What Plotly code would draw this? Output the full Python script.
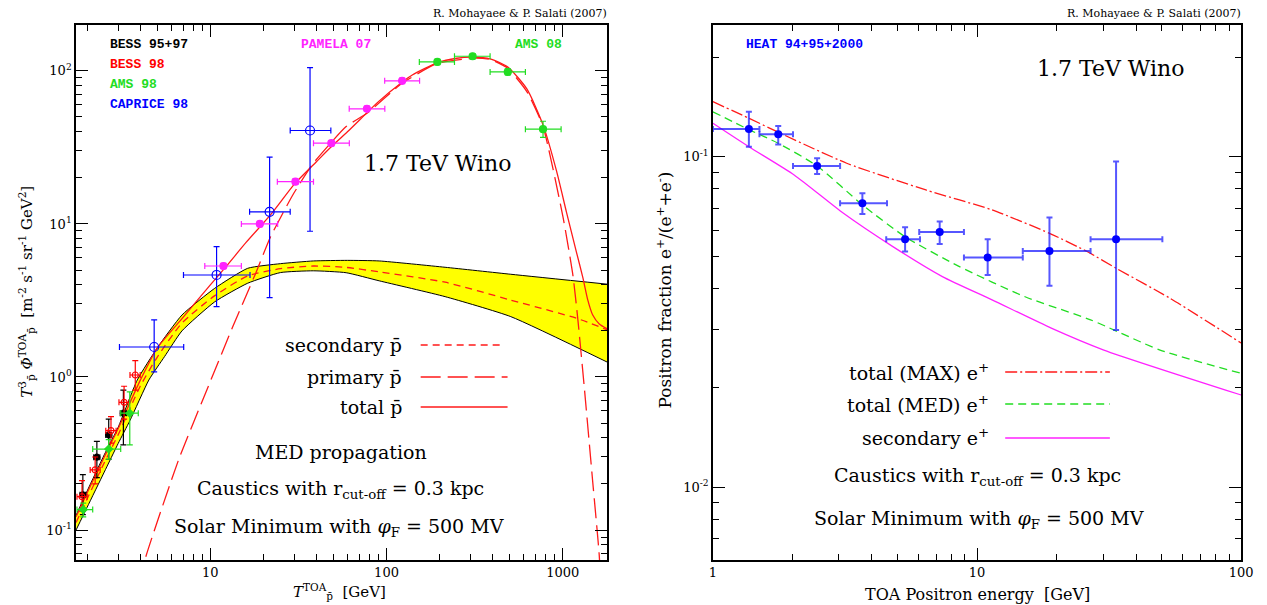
import numpy as np
import plotly.graph_objects as go

W, H = 1267, 605

# ---------------- LEFT PANEL DATA (antiprotons) ----------------
band_lo_x = [1.73, 2.0, 2.5, 3.0, 3.5, 4.48, 5.5, 6.9, 10.6, 16.3, 25, 38.4, 59, 90.8, 215, 507, 1790]
band_lo_y = [0.100, 0.141, 0.239, 0.368, 0.52, 0.956, 1.36, 2.0, 3.1, 4.10, 4.81, 4.94, 4.8, 4.25, 3.35, 2.48, 1.25]
band_hi_x = [1.73, 2.0, 2.5, 3.0, 3.85, 5.0, 6.9, 10.6, 16.3, 25, 38.4, 60, 90.8, 215, 507, 1790]
band_hi_y = [0.125, 0.18, 0.31, 0.47, 0.956, 1.55, 2.54, 3.8, 5.13, 5.5, 5.73, 5.78, 5.73, 5.21, 4.69, 4.04]

sec_x = [1.73, 2.0, 2.5, 3.0, 4.0, 5.0, 6.9, 10.6, 16.3, 25, 38.4, 59, 90.8, 215, 507, 1197, 1790]
sec_y = [0.112, 0.16, 0.275, 0.42, 0.87, 1.35, 2.25, 3.4, 4.57, 5.1, 5.31, 5.2, 4.86, 4.16, 3.18, 2.42, 2.03]

prim_x = [4.0, 4.25, 6.6, 9.9, 13.4, 18.1, 22.0, 29.7, 38.4, 59, 77.4, 122.6, 194, 308, 387, 488, 627, 773, 1005, 1143, 1218, 1328, 1480, 1612, 1660]
prim_y = [0.045, 0.0637, 0.287, 0.91, 2.13, 4.77, 8.27, 15.8, 24.9, 43.3, 52.9, 83, 112, 121, 119, 104, 73, 43.3, 11.0, 4.6, 2.39, 0.835, 0.206, 0.068, 0.03]

tot_x = [1.73, 2.0, 2.5, 3.0, 4.0, 5.0, 7.0, 10.0, 12.0, 16.0, 22.0, 30.0, 40.0, 50.0, 60.0, 77.0, 90.0, 122.0, 140.0, 194.0, 250.0, 308.0, 387.0, 488.0, 627.0, 773.0, 922.0, 1049.0, 1194.0, 1301.0, 1388.0, 1480.0, 1612.0, 1790.0]
tot_y = [0.122, 0.175, 0.30, 0.46, 0.95, 1.55, 2.45, 4.0, 5.1, 7.6, 11.5, 18.2, 25.5, 33.0, 40.0, 53.0, 63.0, 84.0, 94.0, 113.0, 121.0, 123.0, 120.0, 106.0, 76.0, 44.4, 22.2, 12.0, 6.6, 4.46, 3.18, 2.54, 2.22, 2.06]

# data sets: x, y, x_lo, x_hi, y_lo, y_hi
bess9597_x = [1.89, 2.27, 2.65, 3.21]
bess9597_y = [0.170, 0.299, 0.418, 0.580]
bess9597_xlo = [1.82, 2.18, 2.55, 3.08]
bess9597_xhi = [1.96, 2.36, 2.76, 3.35]
bess9597_ylo = [0.126, 0.22, 0.29, 0.36]
bess9597_yhi = [0.23, 0.38, 0.53, 0.82]

bess98_x = [1.87, 2.22, 2.73, 3.24, 3.75]
bess98_y = [0.165, 0.247, 0.446, 0.683, 1.03]
bess98_xlo = [1.75, 2.08, 2.55, 3.03, 3.5]
bess98_xhi = [2.0, 2.37, 2.92, 3.46, 4.0]
bess98_ylo = [0.133, 0.20, 0.37, 0.53, 0.82]
bess98_yhi = [0.21, 0.30, 0.55, 0.87, 1.28]

ams98_x = [1.90, 2.65, 3.49]
ams98_y = [0.136, 0.338, 0.580]
ams98_xlo = [1.75, 2.15, 3.1]
ams98_xhi = [2.15, 3.1, 3.9]
ams98_ylo = [0.122, 0.29, 0.36]
ams98_yhi = [0.15, 0.39, 0.80]

caprice_x = [4.80, 10.85, 21.7, 36.8]
caprice_y = [1.57, 4.64, 12.0, 40.8]
caprice_xlo = [3.05, 7.04, 16.7, 28.4]
caprice_xhi = [7.06, 16.8, 28.4, 48.3]
caprice_ylo = [1.08, 2.88, 3.30, 8.96]
caprice_yhi = [2.36, 7.11, 27.3, 105]

pamela_x = [11.87, 19.1, 30.4, 48.6, 77.4, 122.6]
pamela_y = [5.31, 10.0, 18.9, 33.7, 56.5, 86.1]
pamela_xlo = [9.3, 15.0, 24.0, 38.5, 61.4, 97.6]
pamela_xhi = [15.0, 24.1, 38.5, 61.5, 97.8, 154]
pamela_ylo = [5.1, 9.6, 18.2, 32.4, 54.3, 82.7]
pamela_yhi = [5.53, 10.4, 19.7, 35.1, 58.8, 89.6]

ams08_x = [194.3, 308, 487.6, 773]
ams08_y = [114.5, 124.7, 98.5, 41.6]
ams08_xlo = [153.5, 243, 387, 614]
ams08_xhi = [243, 387, 614, 979]
ams08_ylo = [110, 120, 94, 36.8]
ams08_yhi = [119, 129, 103, 46.9]

# ---------------- RIGHT PANEL DATA (positron fraction) ----------------
max_x = [1, 1.368, 1.767, 3.21, 6.4, 11.4, 18.8, 26.2, 33.6, 53.8, 100]
max_y = [0.147, 0.131, 0.1188, 0.0957, 0.0794, 0.0691, 0.0587, 0.0516, 0.046, 0.0373, 0.0273]

med_x = [1, 1.368, 1.767, 2.48, 3.68, 5.34, 8.54, 15.2, 26.9, 49.3, 100]
med_y = [0.137, 0.121, 0.110, 0.0939, 0.0716, 0.0573, 0.0466, 0.0377, 0.0321, 0.026, 0.0221]

secp_x = [1, 1.368, 2.03, 3.12, 4.80, 7.39, 11.4, 19.1, 30.2, 100]
secp_y = [0.1265, 0.1074, 0.0882, 0.0675, 0.0535, 0.0434, 0.0369, 0.0303, 0.026, 0.019]

heat_x = [1.368, 1.767, 2.48, 3.68, 5.34, 7.22, 10.97, 18.8, 33.6]
heat_y = [0.1216, 0.1172, 0.0939, 0.0724, 0.0563, 0.0592, 0.0496, 0.0519, 0.0563]
heat_xlo = [1.0, 1.5, 2.01, 3.03, 4.53, 6.04, 8.92, 14.9, 26.9]
heat_xhi = [1.5, 2.01, 3.03, 4.56, 6.08, 8.92, 14.9, 26.9, 50.3]
heat_ylo = [0.1074, 0.109, 0.0888, 0.0672, 0.0517, 0.0545, 0.0439, 0.0407, 0.0299]
heat_yhi = [0.137, 0.124, 0.0991, 0.0776, 0.0612, 0.0637, 0.0563, 0.0655, 0.0968]

left_xticks = [10, 100, 1000]
left_xticktext = ["10", "100", "1000"]
left_yticks = [0.1, 1, 10, 100]
left_yticktext = ["10<sup>-1</sup>", "10<sup>0</sup>", "10<sup>1</sup>", "10<sup>2</sup>"]
right_xticks = [1, 10, 100]
right_xticktext = ["1", "10", "100"]
right_yticks = [0.01, 0.1]
right_yticktext = ["10<sup>-2</sup>", "10<sup>-1</sup>"]

RED = "#ff1a1a"
GREEN = "#22dd22"
MAG = "#ff22ff"
BLUE = "#0000ff"

fig = go.Figure()


def errs(x, y, xlo, xhi, ylo, yhi):
    x = np.array(x); y = np.array(y)
    return (dict(type="data", symmetric=False, array=np.array(xhi) - x, arrayminus=x - np.array(xlo)),
            dict(type="data", symmetric=False, array=np.array(yhi) - y, arrayminus=y - np.array(ylo)))


# band
fig.add_trace(go.Scatter(x=band_lo_x, y=band_lo_y, mode="lines", line=dict(color="black", width=1, shape="spline", smoothing=0.5),
                         xaxis="x", yaxis="y", showlegend=False))
fig.add_trace(go.Scatter(x=band_hi_x, y=band_hi_y, mode="lines", line=dict(color="black", width=1, shape="spline", smoothing=0.5),
                         fill="tonexty", fillcolor="#ffff00", xaxis="x", yaxis="y", showlegend=False))
fig.add_trace(go.Scatter(x=sec_x, y=sec_y, mode="lines", line=dict(color=RED, width=1.3, dash="7px,5px", shape="spline", smoothing=0.6),
                         xaxis="x", yaxis="y", showlegend=False))
fig.add_trace(go.Scatter(x=prim_x, y=prim_y, mode="lines", line=dict(color=RED, width=1.3, dash="20px,7px", shape="spline", smoothing=0.5),
                         xaxis="x", yaxis="y", showlegend=False))
fig.add_trace(go.Scatter(x=tot_x, y=tot_y, mode="lines", line=dict(color=RED, width=1.3, shape="spline", smoothing=0.6),
                         xaxis="x", yaxis="y", showlegend=False))

sets = [
    (bess9597_x, bess9597_y, bess9597_xlo, bess9597_xhi, bess9597_ylo, bess9597_yhi, "black", "circle", 6),
    (bess98_x, bess98_y, bess98_xlo, bess98_xhi, bess98_ylo, bess98_yhi, "red", "circle-open", 6),
    (ams98_x, ams98_y, ams98_xlo, ams98_xhi, ams98_ylo, ams98_yhi, GREEN, "diamond", 6),
    (caprice_x, caprice_y, caprice_xlo, caprice_xhi, caprice_ylo, caprice_yhi, BLUE, "circle-open", 9),
    (pamela_x, pamela_y, pamela_xlo, pamela_xhi, pamela_ylo, pamela_yhi, MAG, "circle", 7),
    (ams08_x, ams08_y, ams08_xlo, ams08_xhi, ams08_ylo, ams08_yhi, GREEN, "circle", 7),
]
for x, y, xlo, xhi, ylo, yhi, c, sym, sz in sets:
    ex, ey = errs(x, y, xlo, xhi, ylo, yhi)
    ex.update(color=c, thickness=1.2, width=3)
    ey.update(color=c, thickness=1.2, width=3)
    fig.add_trace(go.Scatter(x=x, y=y, mode="markers", error_x=ex, error_y=ey,
                             marker=dict(color=c, symbol=sym, size=sz, line=dict(color=c, width=1.2)),
                             xaxis="x", yaxis="y", showlegend=False))

# right panel curves
fig.add_trace(go.Scatter(x=max_x, y=max_y, mode="lines", line=dict(color=RED, width=1.3, dash="12px,3px,2px,3px", shape="spline", smoothing=0.6),
                         xaxis="x2", yaxis="y2", showlegend=False))
fig.add_trace(go.Scatter(x=med_x, y=med_y, mode="lines", line=dict(color=GREEN, width=1.3, dash="8px,5px", shape="spline", smoothing=0.6),
                         xaxis="x2", yaxis="y2", showlegend=False))
fig.add_trace(go.Scatter(x=secp_x, y=secp_y, mode="lines", line=dict(color=MAG, width=1.3, shape="spline", smoothing=0.6),
                         xaxis="x2", yaxis="y2", showlegend=False))
ex, ey = errs(heat_x, heat_y, heat_xlo, heat_xhi, heat_ylo, heat_yhi)
ex.update(color="rgba(30,30,255,0.75)", thickness=2, width=3)
ey.update(color="rgba(30,30,255,0.75)", thickness=2, width=3)
fig.add_trace(go.Scatter(x=heat_x, y=heat_y, mode="markers", error_x=ex, error_y=ey,
                         marker=dict(color=BLUE, size=8), xaxis="x2", yaxis="y2", showlegend=False))


def minor_vals(lo, hi):
    out = []
    for e in range(lo, hi + 1):
        for m in range(2, 10):
            out.append(m * 10.0 ** e)
    return out


def axis(dom, rng, tv, tt, mlo, mhi, anchor):
    return dict(type="log", domain=dom, range=rng, anchor=anchor, showgrid=False, zeroline=False,
                showline=True, linecolor="black", linewidth=1.6, mirror="allticks",
                ticks="inside", ticklen=12, tickwidth=1.2, tickcolor="black",
                tickmode="array", tickvals=tv, ticktext=tt,
                tickfont=dict(family="DejaVu Serif", size=13, color="black"),
                minor=dict(ticks="inside", ticklen=6, tickwidth=1.1, tickcolor="black",
                           tickmode="array", tickvals=minor_vals(mlo, mhi), showgrid=False))


ydom = [1 - 560 / H, 1 - 25 / H]
fig.update_layout(
    width=W, height=H, margin=dict(l=0, r=0, t=0, b=0),
    paper_bgcolor="white", plot_bgcolor="white", showlegend=False,
    xaxis=axis([73 / W, 611 / W], [np.log10(1.73), np.log10(1790)], left_xticks, left_xticktext, 0, 3, "y"),
    yaxis=axis(ydom, [-1.196, 2.30], left_yticks, left_yticktext, -2, 2, "x"),
    xaxis2=axis([718 / W, 1253 / W], [0, 2], right_xticks, right_xticktext, 0, 1, "y2"),
    yaxis2=axis(ydom, [np.log10(0.00601), np.log10(0.251)], right_yticks, right_yticktext, -3, -1, "x2"),
)

SERIF = "DejaVu Serif"
MONO = "Liberation Mono"
anns = []


def ann(px, py, text, size=19, color="black", family=SERIF, xa="center", angle=0):
    anns.append(dict(x=px / W, y=1 - py / H, xref="paper", yref="paper", text=text, showarrow=False,
                     xanchor=xa, yanchor="middle", textangle=angle,
                     font=dict(family=family, size=size, color=color)))


pbar = "p\u0304"
# left
ann(613, 13, "R. Mohayaee &amp; P. Salati (2007)", 11, xa="right")
ann(105, 45, "<b>BESS 95+97</b>", 13, "black", MONO, "left")
ann(105, 65, "<b>BESS 98</b>", 13, "red", MONO, "left")
ann(105, 84, "<b>AMS 98</b>", 13, GREEN, MONO, "left")
ann(105, 104, "<b>CAPRICE 98</b>", 13, BLUE, MONO, "left")
ann(336, 45, "<b>PAMELA 07</b>", 13, MAG, MONO)
ann(541, 45, "<b>AMS 08</b>", 13, GREEN, MONO)
ann(440, 163, "1.7 TeV Wino", 22)
ann(405, 345, "secondary " + pbar, 19, xa="right")
ann(405, 377, "primary " + pbar, 19, xa="right")
ann(405, 407, "total " + pbar, 19, xa="right")
ann(341, 452, "MED propagation", 19)
ann(341, 489, "Caustics with r<sub>cut-off</sub> = 0.3 kpc", 19)
ann(339, 527, "Solar Minimum with <i>φ</i><sub>F</sub> = 500 MV", 19)
ann(22, 292, "<i>T</i><sup>3</sup><sub>" + pbar + "</sub> <i>Φ</i><sup>TOA</sup><sub>" + pbar + "</sub>  [m<sup>-2</sup> s<sup>-1</sup> sr<sup>-1</sup> GeV<sup>2</sup>]", 15, angle=-90)
ann(340, 591, "<i>T</i><sup>TOA</sup><sub>" + pbar + "</sub>  [GeV]", 15)
# right
ann(1255, 13, "R. Mohayaee &amp; P. Salati (2007)", 11, xa="right")
ann(749, 45, "<b>HEAT 94+95+2000</b>", 13, BLUE, MONO, "left")
ann(1121, 68, "1.7 TeV Wino", 22)
ann(1000, 372, "total (MAX) e<sup>+</sup>", 19, xa="right")
ann(1000, 404, "total (MED) e<sup>+</sup>", 19, xa="right")
ann(1000, 437, "secondary e<sup>+</sup>", 19, xa="right")
ann(986, 477, "Caustics with r<sub>cut-off</sub> = 0.3 kpc", 19)
ann(987, 519, "Solar Minimum with <i>φ</i><sub>F</sub> = 500 MV", 19)
ann(668, 290, "Positron fraction e<sup>+</sup>/(e<sup>+</sup>+e<sup>-</sup>)", 17, angle=-90)
ann(986, 594, "TOA Positron energy  [GeV]", 16)

shapes = []


def seg(x0, x1, py, color, dash):
    shapes.append(dict(type="line", xref="paper", yref="paper", x0=x0 / W, x1=x1 / W, y0=1 - py / H, y1=1 - py / H,
                       line=dict(color=color, width=1.3, dash=dash)))


seg(422, 507, 345, RED, "7px,5px")
seg(422, 510, 377, RED, "20px,7px")
seg(422, 510, 407, RED, "solid")
seg(1014, 1120, 372, RED, "12px,3px,2px,3px")
seg(1014, 1120, 404, GREEN, "8px,5px")
seg(1014, 1120, 438, MAG, "solid")

fig.update_layout(annotations=anns, shapes=shapes)
fig.write_html("out.html")
